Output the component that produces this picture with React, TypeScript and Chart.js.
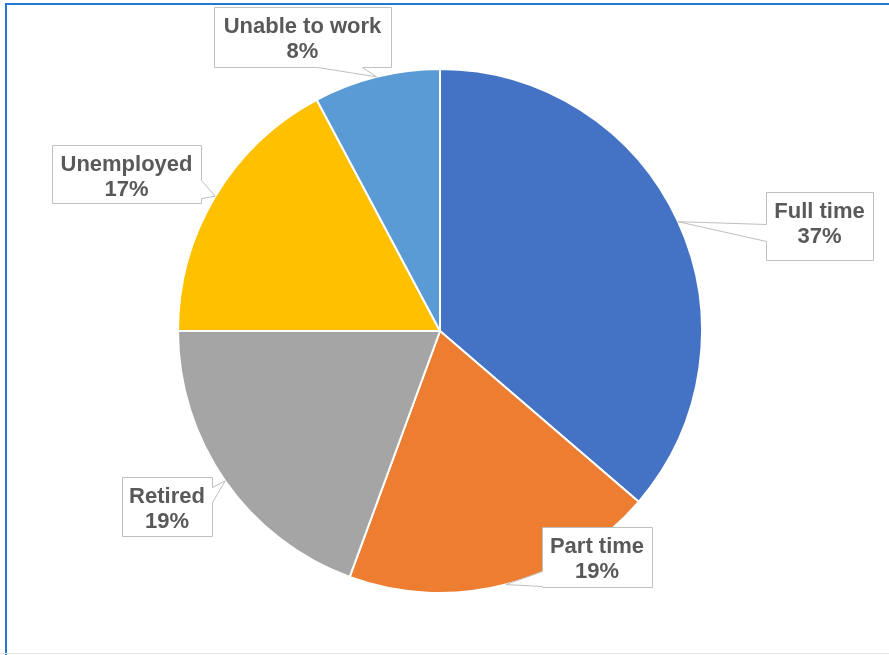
import { useEffect, useRef } from 'react';
import { Chart, registerables } from 'chart.js';

Chart.register(...registerables);

const categories = ['Full time', 'Part time', 'Retired', 'Unemployed', 'Unable to work'];
const shares = [36.3, 19.3, 19.4, 17.2, 7.8];
const percentLabels = ['37%', '19%', '19%', '17%', '8%'];
const sliceColors = ['#4472C4', '#ED7D31', '#A5A5A5', '#FFC000', '#5B9BD5'];

// callout boxes (layout only): rect + edge carrying the wedge + wedge base points along that edge
type Callout = { x: number; y: number; w: number; h: number; edge: 'top' | 'right' | 'bottom' | 'left'; b1: number; b2: number };
const callouts: Callout[] = [
  { x: 766, y: 192, w: 107, h: 68, edge: 'left', b1: 224, b2: 241 },
  { x: 542, y: 527, w: 110, h: 60, edge: 'left', b1: 571, b2: 586 },
  { x: 122, y: 477, w: 90, h: 59, edge: 'right', b1: 487, b2: 502 },
  { x: 52, y: 145, w: 149, h: 58, edge: 'right', b1: 180, b2: 198 },
  { x: 214, y: 7, w: 177, h: 60, edge: 'bottom', b1: 317, b2: 362 },
];

const framePlugin = {
  id: 'frame',
  beforeDraw(chart: any) {
    const ctx = chart.ctx;
    ctx.save();
    ctx.fillStyle = '#ffffff';
    ctx.fillRect(0, 0, chart.width, chart.height);
    ctx.fillStyle = '#2577d0';
    ctx.fillRect(5, 3, 2, chart.height - 3);
    ctx.fillRect(5, 3, chart.width - 5, 2);
    ctx.fillStyle = '#e6e6e6';
    ctx.fillRect(0, chart.height - 2, chart.width, 1);
    ctx.restore();
  },
};

const calloutPlugin = {
  id: 'callouts',
  afterDatasetsDraw(chart: any) {
    const ctx = chart.ctx;
    const meta = chart.getDatasetMeta(0);
    meta.data.forEach((arc: any, i: number) => {
      const c = callouts[i];
      if (!c) return;
      const p = arc.getProps(['x', 'y', 'startAngle', 'endAngle', 'outerRadius'], true);
      const mid = (p.startAngle + p.endAngle) / 2;
      const tx = p.x + Math.cos(mid) * p.outerRadius;
      const ty = p.y + Math.sin(mid) * p.outerRadius;
      const L = c.x + 0.5, T = c.y + 0.5, R = c.x + c.w + 0.5, B = c.y + c.h + 0.5;
      const pts: [number, number][] = [];
      const lo = Math.min(c.b1, c.b2) + 0.5, hi = Math.max(c.b1, c.b2) + 0.5;
      pts.push([L, T]);
      if (c.edge === 'top') { pts.push([lo, T], [tx, ty], [hi, T]); }
      pts.push([R, T]);
      if (c.edge === 'right') { pts.push([R, lo], [tx, ty], [R, hi]); }
      pts.push([R, B]);
      if (c.edge === 'bottom') { pts.push([hi, B], [tx, ty], [lo, B]); }
      pts.push([L, B]);
      if (c.edge === 'left') { pts.push([L, hi], [tx, ty], [L, lo]); }
      ctx.save();
      ctx.beginPath();
      pts.forEach(([x, y], k) => (k === 0 ? ctx.moveTo(x, y) : ctx.lineTo(x, y)));
      ctx.closePath();
      ctx.fillStyle = '#ffffff';
      ctx.fill();
      ctx.strokeStyle = '#bfbfbf';
      ctx.lineWidth = 1;
      ctx.stroke();
      ctx.fillStyle = '#595959';
      ctx.font = 'bold 22px "Liberation Sans", Arial, sans-serif';
      ctx.textAlign = 'center';
      ctx.textBaseline = 'alphabetic';
      const cx = c.x + c.w / 2;
      ctx.fillText(categories[i], cx, c.y + 25.5);
      ctx.fillText(percentLabels[i], cx, c.y + 51);
      ctx.restore();
    });
  },
};

export default function App() {
  const ref = useRef<HTMLCanvasElement | null>(null);
  useEffect(() => {
    if (!ref.current) return;
    const chart = new Chart(ref.current, {
      type: 'pie',
      data: {
        labels: categories,
        datasets: [
          {
            data: shares,
            backgroundColor: sliceColors,
            borderColor: '#ffffff',
            borderWidth: 2,
            hoverOffset: 0,
            offset: 0,
          },
        ],
      },
      options: {
        responsive: false,
        animation: false,
        devicePixelRatio: 1,
        layout: { padding: { top: 68, bottom: 61, left: 177, right: 186 } },
        plugins: { legend: { display: false }, tooltip: { enabled: false } },
      },
      plugins: [framePlugin, calloutPlugin],
    });
    return () => chart.destroy();
  }, []);
  return (
    <div style={{ position: 'fixed', left: 0, top: 0, width: 889, height: 655, background: '#fff' }}>
      <canvas ref={ref} width={889} height={655} style={{ display: 'block' }} />
    </div>
  );
}
